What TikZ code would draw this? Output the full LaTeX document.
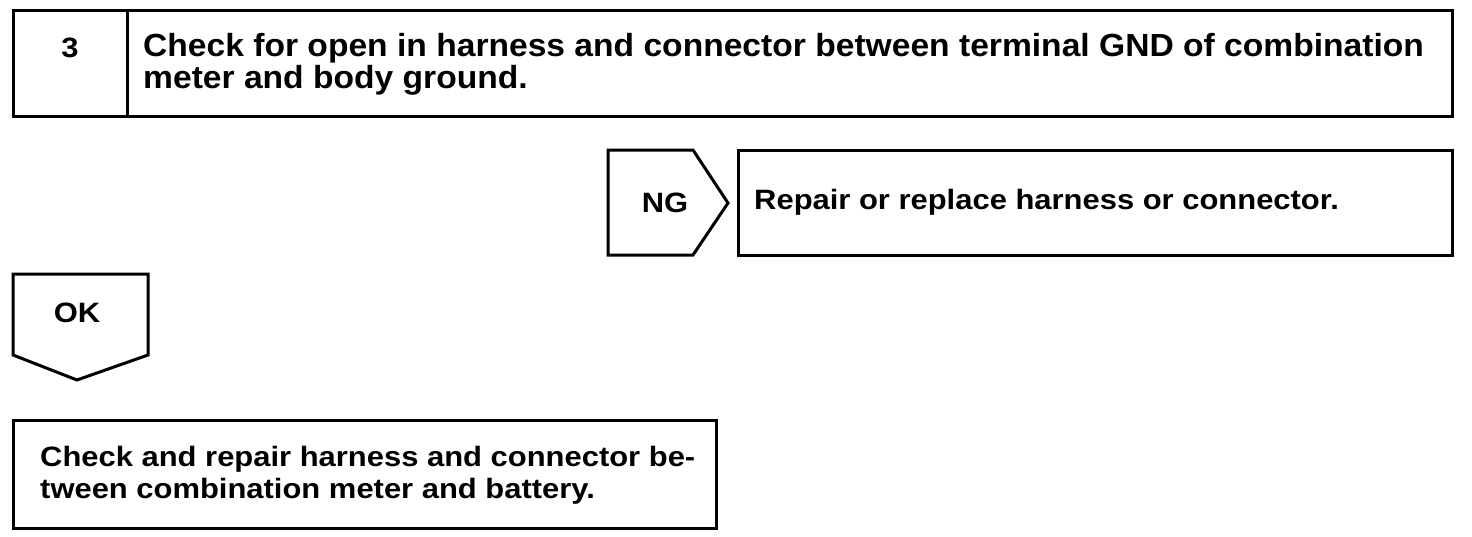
\documentclass[tikz,border=0pt]{standalone}
\usepackage{fontspec}
\setmainfont{Liberation Sans}
\newfontfamily\bigfam{Liberation Sans}[FakeStretch=1.05]
\newfontfamily\smallfam{Liberation Sans}[FakeStretch=1.105]
\begin{document}
\begin{tikzpicture}[x=1pt,y=-1pt,
  box/.style={draw=black,line width=3pt,line join=miter},
  bigtxt/.style={font=\bigfam\fontsize{32}{31.5}\selectfont\bfseries,inner sep=0pt,align=left},
  txt/.style={font=\smallfam\fontsize{28}{31.5}\selectfont\bfseries,inner sep=0pt,align=left}]
\useasboundingbox (0,0) rectangle (1472,536);
% top box
\draw[box] (13,10) rectangle (1452,116);
\draw[box] (127,10) -- (127,116);
\node[txt,anchor=center] (num) at (70,47.5) {3};
\node[bigtxt,anchor=base west] (q) at (143,88) {Check for open in harness and connector between terminal GND of combination\\meter and body ground.};
% NG
\draw[box] (608,150) -- (693,150) -- (728,203) -- (693,255) -- (608,255) -- cycle;
\node[txt,anchor=center] (ng) at (665,203) {NG};
\draw[box] (738,150) rectangle (1452,255);
\node[txt,anchor=base west] (rep) at (754,209) {Repair or replace harness or connector.};
% OK
\draw[box] (13,274) -- (148,274) -- (148,355) -- (77,380) -- (13,355) -- cycle;
\node[txt,anchor=center] (ok) at (77,313) {OK};
% bottom box
\draw[box] (13,420) rectangle (716,528);
\node[txt,anchor=base west] (chk) at (40,498) {Check and repair harness and connector be-\\tween combination meter and battery.};
\end{tikzpicture}
\end{document}
